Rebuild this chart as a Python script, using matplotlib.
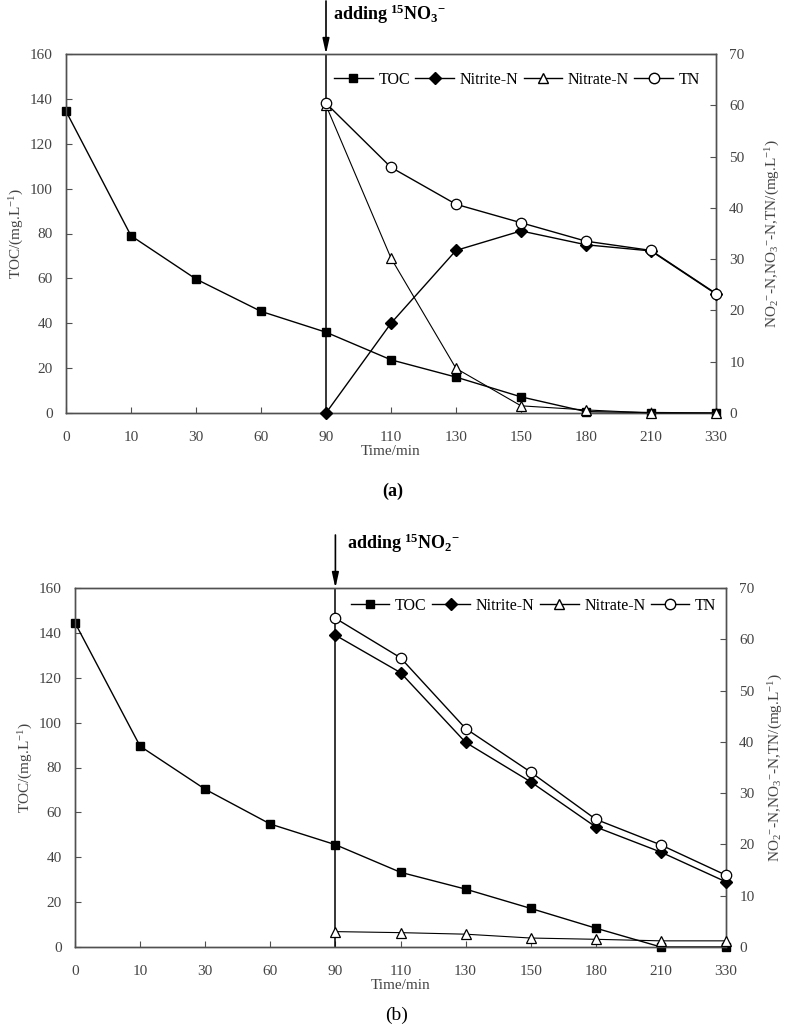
import matplotlib
matplotlib.use("Agg")
import matplotlib.pyplot as plt
from matplotlib.lines import Line2D

plt.rcParams['font.family'] = ['Liberation Serif', 'DejaVu Serif']
plt.rcParams['mathtext.fontset'] = 'custom'
plt.rcParams['mathtext.default'] = 'regular'
plt.rcParams['mathtext.rm'] = 'Liberation Serif'

time_labels = ['0', '10', '30', '60', '90', '110', '130', '150', '180', '210', '330']
n_after = ['90', '110', '130', '150', '180', '210', '330']

# Panel (a): adding 15NO3-
toc_a = [134.5, 79.0, 59.7, 45.3, 36.0, 23.7, 16.0, 7.2, 0.6, 0.2, 0.0]
nitrite_a = [0.0, 17.5, 31.7, 35.5, 32.8, 31.6, 23.2]
nitrate_a = [60.0, 30.2, 8.7, 1.4, 0.6, 0.0, 0.0]
tn_a = [60.4, 47.9, 40.7, 37.1, 33.5, 31.7, 23.3]

# Panel (b): adding 15NO2-
toc_b = [144.5, 89.5, 70.3, 54.8, 45.6, 33.3, 25.8, 17.2, 8.4, 0.0, 0.0]
nitrite_b = [60.8, 53.5, 39.9, 32.2, 23.4, 18.5, 12.7]
nitrate_b = [3.0, 2.8, 2.5, 1.75, 1.5, 1.2, 1.2]
tn_b = [64.1, 56.4, 42.6, 34.1, 24.9, 19.9, 14.0]

W, H = 787, 1032
fig = plt.figure(figsize=(W / 100, H / 100), dpi=100)

GRAY = '#505050'
TICKC = '#444444'


def make_panel(rect, toc, nitrite, nitrate, tn, leg_anchor, rpad):
    ax = fig.add_axes(rect)
    ax2 = ax.twinx()
    x_all = list(range(len(time_labels)))
    x_after = [time_labels.index(t) for t in n_after]

    ax.plot(x_all, toc, color='black', lw=1.0, marker='s', ms=5.5,
            mfc='black', mec='black', clip_on=False, zorder=3)
    ax.axvline(time_labels.index('90'), color='black', lw=1.1, zorder=2)

    ax2.plot(x_after, nitrate, color='black', lw=0.8, marker='^', ms=7.5,
             mfc='white', mec='black', mew=0.9, clip_on=False, zorder=3)
    ax2.plot(x_after, nitrite, color='black', lw=1.0, marker='D', ms=6.5,
             mfc='black', mec='black', clip_on=False, zorder=4)
    ax2.plot(x_after, tn, color='black', lw=1.0, marker='o', ms=7.5,
             mfc='white', mec='black', mew=0.9, clip_on=False, zorder=5)

    ax.set_xlim(0, len(time_labels) - 1)
    ax.set_ylim(0, 160)
    ax2.set_ylim(0, 70)
    ax.set_xticks(x_all)
    ax.set_xticklabels(time_labels)
    ax.set_yticks(range(0, 161, 20))
    ax2.set_yticks(range(0, 71, 10))

    for a in (ax, ax2):
        for s in a.spines.values():
            s.set_color(GRAY)
            s.set_linewidth(1.0)
        a.patch.set_visible(False)
    ax.tick_params(axis='both', direction='in', length=4, width=0.8,
                   colors=GRAY, labelcolor=TICKC, labelsize=11)
    ax.tick_params(axis='y', pad=9.5)
    ax.tick_params(axis='x', pad=13)
    ax2.tick_params(axis='y', direction='in', length=4, width=0.8,
                    colors=GRAY, labelcolor=TICKC, labelsize=11, pad=9.5)

    ax.set_xlabel('Time/min', fontsize=11, color=TICKC, labelpad=1)
    ax.set_ylabel('TOC/(mg.L$^{-1}$)', fontsize=11, color=TICKC, labelpad=3)
    ax2.set_ylabel('NO$_{2}$$^{-}$-N,NO$_{3}$$^{-}$-N,TN/(mg.L$^{-1}$)',
                   fontsize=11, color=TICKC, rotation=90, labelpad=rpad)

    handles = [
        Line2D([], [], color='black', lw=1.0, marker='s', ms=5.5, mfc='black', mec='black'),
        Line2D([], [], color='black', lw=1.0, marker='D', ms=6.5, mfc='black', mec='black'),
        Line2D([], [], color='black', lw=1.0, marker='^', ms=7.5, mfc='white', mec='black'),
        Line2D([], [], color='black', lw=1.0, marker='o', ms=7.5, mfc='white', mec='black'),
    ]
    ax2.legend(handles, ['TOC', 'Nitrite-N', 'Nitrate-N', 'TN'], ncol=4,
               frameon=False, loc='center right', bbox_to_anchor=leg_anchor,
               borderaxespad=0, borderpad=0, handlelength=2.4,
               handletextpad=0.35, columnspacing=0.35, fontsize=11.5)

    # arrow above the axes pointing down onto the 90 min line
    x90 = time_labels.index('90')
    ax.annotate('', xy=(x90, 1.0), xycoords=('data', 'axes fraction'),
                xytext=(x90, 1.0 + 53 / 359), textcoords=('data', 'axes fraction'),
                arrowprops=dict(arrowstyle='-|>,head_length=0.9,head_width=0.2',
                                color='black', lw=1.2, shrinkA=0, shrinkB=0),
                annotation_clip=False)
    return ax, ax2


# panel a
rect_a = [66 / W, 1 - 413 / H, 650 / W, 359 / H]
make_panel(rect_a, toc_a, nitrite_a, nitrate_a, tn_a, (0.975, 0.928), 14)
fig.text(333 / W, 1 - 14 / H, r'adding $^{15}$NO$_{3}$$^{-}$', fontsize=13,
         fontweight='bold', ha='left', va='center')
fig.text(393 / W, 1 - 491 / H, '(a)', fontsize=13, fontweight='bold',
         ha='center', va='center')

# panel b
rect_b = [75 / W, 1 - 947 / H, 651 / W, 359 / H]
make_panel(rect_b, toc_b, nitrite_b, nitrate_b, tn_b, (0.985, 0.95), 9)
fig.text(347 / W, 1 - 543 / H, r'adding $^{15}$NO$_{2}$$^{-}$', fontsize=13,
         fontweight='bold', ha='left', va='center')
fig.text(397 / W, 1 - 1015 / H, '(b)', fontsize=14, ha='center', va='center')

fig.savefig('out.png', dpi=100)
